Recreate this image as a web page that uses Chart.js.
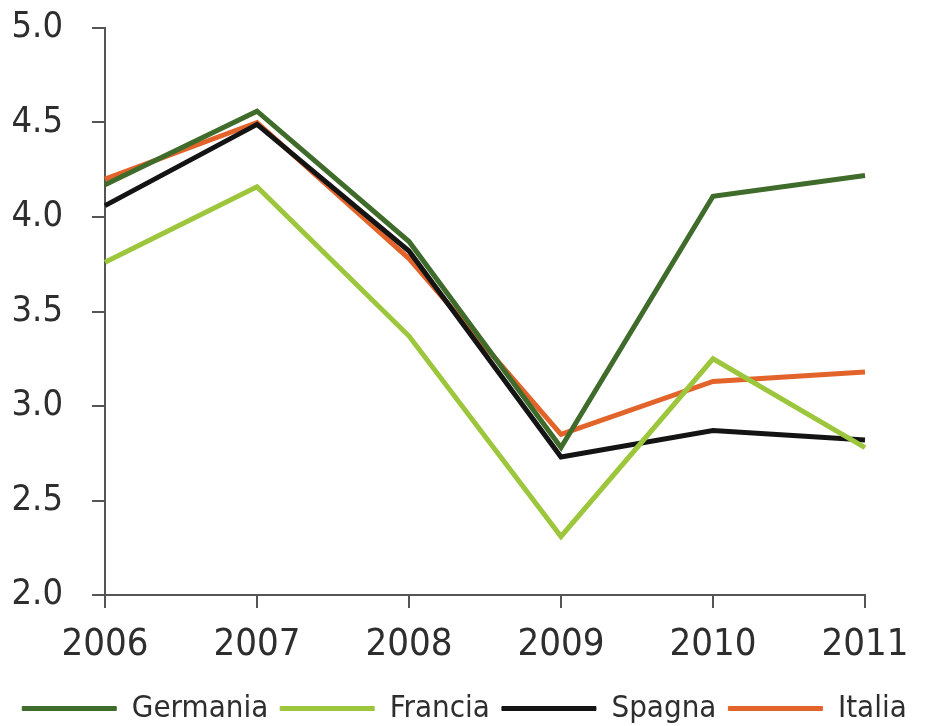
<!DOCTYPE html>
<html>
<head>
<meta charset="utf-8">
<script src="https://cdn.jsdelivr.net/npm/chart.js@4/dist/chart.umd.min.js"></script>
<style>
  html, body { margin: 0; padding: 0; background: #ffffff; }
  #wrap { width: 929px; height: 726px; }
</style>
</head>
<body>
<div id="wrap"><canvas id="c" width="929" height="726"></canvas></div>
<script>
// Years on the horizontal axis
const years = ['2006', '2007', '2008', '2009', '2010', '2011'];

// Series values per country
const germania = [4.17, 4.56, 3.87, 2.78, 4.11, 4.22];
const francia  = [3.76, 4.16, 3.37, 2.31, 3.25, 2.78];
const spagna   = [4.06, 4.49, 3.82, 2.73, 2.87, 2.82];
const italia   = [4.20, 4.50, 3.78, 2.85, 3.13, 3.18];

// Vertical axis range and step
const yMin = 2.0;
const yMax = 5.0;
const yStep = 0.5;

const FONT = '"DejaVu Sans Condensed", "Liberation Sans Narrow", "DejaVu Sans", sans-serif';
const AXIS = '#555555';
const TEXT = '#2e2e2e';

function series(label, data, color) {
  return {
    label: label,
    data: data,
    borderColor: color,
    backgroundColor: color,
    borderWidth: 5,
    pointRadius: 0,
    pointHoverRadius: 0,
    tension: 0,
    fill: false,
    borderJoinStyle: 'miter',
    borderCapStyle: 'butt'
  };
}

new Chart(document.getElementById('c'), {
  type: 'line',
  data: {
    labels: years,
    datasets: [
      series('Germania', germania, '#3f6b2b'),
      series('Francia', francia, '#9cc63b'),
      series('Spagna', spagna, '#141414'),
      series('Italia', italia, '#e3642a')
    ]
  },
  options: {
    responsive: false,
    animation: false,
    layout: { padding: { left: 0, right: 0, top: 0, bottom: -8 } },
    plugins: {
      tooltip: { enabled: false },
      legend: {
        position: 'bottom',
        labels: {
          boxWidth: 94,
          boxHeight: 4,
          padding: 12,
          color: TEXT,
          font: { family: FONT, size: 31 },
          generateLabels(chart) {
            return chart.data.datasets.map((ds, i) => ({
              text: ds.label,
              fillStyle: ds.borderColor,
              strokeStyle: ds.borderColor,
              lineWidth: 1,
              hidden: false,
              datasetIndex: i,
              fontColor: TEXT
            }));
          }
        }
      }
    },
    scales: {
      x: {
        offset: false,
        afterFit(scale) {
          scale.height = 86;
          scale.paddingLeft = 0;
          scale.paddingRight = 64;
        },
        grid: {
          display: true,
          drawOnChartArea: false,
          drawTicks: true,
          tickLength: 13,
          color: AXIS,
          lineWidth: 2
        },
        border: { display: true, color: AXIS, width: 2 },
        ticks: {
          color: TEXT,
          padding: 14,
          maxRotation: 0,
          font: { family: FONT, size: 38 }
        }
      },
      y: {
        min: yMin,
        max: yMax,
        afterFit(scale) {
          scale.width = 105;
          scale.paddingTop = 28;
          scale.paddingBottom = 0;
        },
        grid: {
          display: true,
          drawOnChartArea: false,
          drawTicks: true,
          tickLength: 13,
          color: AXIS,
          lineWidth: 2
        },
        border: { display: true, color: AXIS, width: 2 },
        ticks: {
          stepSize: yStep,
          color: TEXT,
          padding: 29,
          font: { family: FONT, size: 36 },
          callback: (v) => Number(v).toFixed(1)
        }
      }
    }
  }
});
</script>
</body>
</html>
